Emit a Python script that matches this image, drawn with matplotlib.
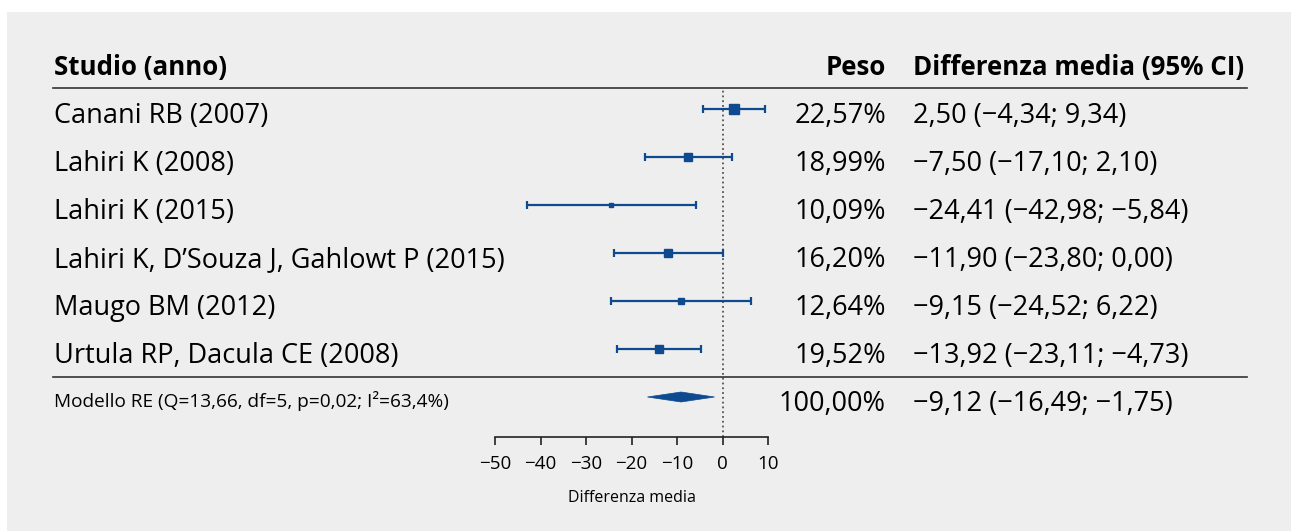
import matplotlib
matplotlib.use("Agg")
import matplotlib.pyplot as plt
from matplotlib.lines import Line2D
from matplotlib.patches import Rectangle, Polygon
import matplotlib.transforms as mtransforms

plt.rcParams['font.family'] = ['Open Sans', 'Noto Sans', 'DejaVu Sans']

# Data
studies = ["Canani RB (2007)", "Lahiri K (2008)", "Lahiri K (2015)",
           "Lahiri K, D\u2019Souza J, Gahlowt P (2015)", "Maugo BM (2012)",
           "Urtula RP, Dacula CE (2008)"]
estimates = [2.50, -7.50, -24.41, -11.90, -9.15, -13.92]
ci_low = [-4.34, -17.10, -42.98, -23.80, -24.52, -23.11]
ci_high = [9.34, 2.10, -5.84, 0.00, 6.22, -4.73]
weights = [22.57, 18.99, 10.09, 16.20, 12.64, 19.52]

pooled_est = -9.12
pooled_low = -16.49
pooled_high = -1.75
pooled_weight = 100.00
model_label = "Modello RE (Q=13,66, df=5, p=0,02; I\u00b2=63,4%)"

xticks = [-50, -40, -30, -20, -10, 0, 10]
xlabel = "Differenza media"
headers = ["Studio (anno)", "Peso", "Differenza media (95% CI)"]

BLUE = '#0d4a8f'
W, H = 1291, 531
FS = 19.5
FS_HEAD = 18.6


def fmt(v):
    s = f"{v:.2f}".replace('.', ',')
    return s.replace('-', '\u2212')


def px_x(p):
    return p / W


fig = plt.figure(figsize=(W / 100, H / 100), dpi=100, facecolor='white')
fig.patches.append(Rectangle((7 / W, 0), 1, 1 - 12 / H, transform=fig.transFigure,
                             facecolor='#eeeeee', edgecolor='none', zorder=-10))

# forest axis: -50..10 spans pixels 495..768; rows i -> pixel 61 + 48*i
y_top, y_bot = 88, 437
ax = fig.add_axes([495 / W, 1 - y_bot / H, (768 - 495) / W, (y_bot - y_top) / H])
ax.set_facecolor('none')
ax.set_xlim(xticks[0], xticks[-1])
ax.set_ylim((y_bot - 61) / 48, (y_top - 61) / 48)

for side in ['left', 'top', 'right']:
    ax.spines[side].set_visible(False)
ax.spines['bottom'].set_color('#222222')
ax.spines['bottom'].set_linewidth(1.2)
ax.set_yticks([])
ax.set_xticks(xticks)
ax.set_xticklabels([str(t).replace('-', '\u2212') for t in xticks], fontsize=13.5)
ax.tick_params(axis='x', direction='out', length=6, width=1.2, color='#222222', pad=7)
ax.set_xlabel(xlabel, fontsize=11.5, labelpad=12)

ax.axvline(0, color='#555555', linestyle=':', linewidth=1.3, zorder=1)

rows = list(range(1, len(studies) + 1))
for r, est, lo, hi, w in zip(rows, estimates, ci_low, ci_high, weights):
    ax.errorbar([est], [r], xerr=[[est - lo], [hi - est]], fmt='none',
                ecolor=BLUE, elinewidth=1.6, capsize=3.2, capthick=1.6, zorder=3)
    ax.plot([est], [r], marker='s', color=BLUE, markersize=w * 0.46 * 0.72,
            linestyle='none', zorder=4)

# pooled diamond
r_sum = len(studies) + 1
half_h = 5 / 48
ax.add_patch(Polygon([(pooled_low, r_sum), (pooled_est, r_sum - half_h),
                      (pooled_high, r_sum), (pooled_est, r_sum + half_h)],
                     closed=True, facecolor=BLUE, edgecolor=BLUE, linewidth=0.5, zorder=4))

# text columns
tr = mtransforms.blended_transform_factory(fig.transFigure, ax.transData)
base = 14 / 48  # baseline offset below the row centre
x_name, x_weight, x_ci = px_x(54), px_x(886), px_x(913)

ax.text(x_name, 0 + base, headers[0], transform=tr, fontsize=FS_HEAD, fontweight='bold',
        va='baseline')
ax.text(x_weight, 0 + base, headers[1], transform=tr, fontsize=FS_HEAD, fontweight='bold',
        va='baseline', ha='right')
ax.text(x_ci, 0 + base, headers[2], transform=tr, fontsize=FS_HEAD, fontweight='bold',
        va='baseline')

for r, name, est, lo, hi, w in zip(rows, studies, estimates, ci_low, ci_high, weights):
    ax.text(x_name, r + base, name, transform=tr, fontsize=FS, va='baseline')
    ax.text(x_weight, r + base, f"{w:.2f}%".replace('.', ','), transform=tr, fontsize=FS,
            va='baseline', ha='right')
    ax.text(x_ci, r + base, f"{fmt(est)} ({fmt(lo)}; {fmt(hi)})", transform=tr,
            fontsize=FS, va='baseline')

ax.text(x_name, r_sum + 10 / 48, model_label, transform=tr, fontsize=13.7, va='baseline')
ax.text(x_weight, r_sum + base, f"{pooled_weight:.2f}%".replace('.', ','), transform=tr,
        fontsize=FS, va='baseline', ha='right')
ax.text(x_ci, r_sum + base, f"{fmt(pooled_est)} ({fmt(pooled_low)}; {fmt(pooled_high)})",
        transform=tr, fontsize=FS, va='baseline')

# separator rules
for yp in [(88 - 61) / 48, (377 - 61) / 48]:
    ax.add_line(Line2D([px_x(53), px_x(1247)], [yp, yp], transform=tr, color='#333333',
                       linewidth=1.2, clip_on=False))

fig.savefig('out.png', dpi=100, facecolor=fig.get_facecolor())
